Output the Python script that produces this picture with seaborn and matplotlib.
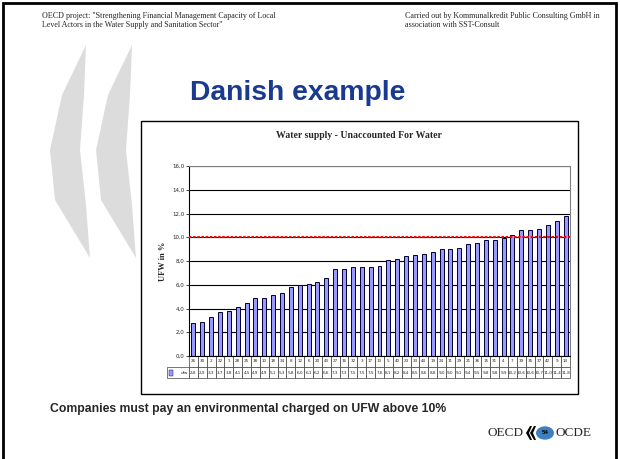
import matplotlib
matplotlib.use('Agg')
import matplotlib.pyplot as plt
from matplotlib.patches import Rectangle, Polygon, Circle
import pandas as pd
import seaborn as sns

# company codes, sorted by UFW
codes = [26, 30, 2, 22, 1, 28, 25, 38, 10, 18, 34, 8, 12, 6, 20, 43, 27, 16, 32, 3, 17, 13,
         5, 40, 23, 33, 44, 19, 24, 11, 29, 21, 36, 15, 31, 4, 7, 39, 35, 37, 42, 9, 14]
ufw = [2.8, 2.9, 3.3, 3.7, 3.8, 4.1, 4.5, 4.9, 4.9, 5.1, 5.3, 5.8, 6.0, 6.1, 6.2, 6.6, 7.3, 7.3,
       7.5, 7.5, 7.5, 7.6, 8.1, 8.2, 8.4, 8.5, 8.6, 8.8, 9.0, 9.0, 9.1, 9.4, 9.5, 9.8, 9.8, 9.9,
       10.2, 10.6, 10.6, 10.7, 11.0, 11.4, 11.8]
limit = 10.0
yticks = [0, 2, 4, 6, 8, 10, 12, 14, 16]

W, H = 620, 459


def px(x, y):
    return (x / W, 1 - y / H)


sns.set_style('white')
fig = plt.figure(figsize=(6.2, 4.59), dpi=100)

# slide frame
fig.add_artist(Rectangle(px(3, 480), 613 / W, 477 / H, transform=fig.transFigure,
                         fill=False, edgecolor='black', lw=2))

# big grey chevrons of the oecd logo
for dx in [0, 46]:
    pts = [px(86 + dx, 45), px(62 + dx, 95), px(50 + dx, 150), px(55 + dx, 200), px(90 + dx, 258),
           px(86 + dx, 205), px(80 + dx, 150), px(84 + dx, 95)]
    fig.add_artist(Polygon(pts, closed=True, transform=fig.transFigure,
                           facecolor='#dcdcdc', edgecolor='none'))

# header
fig.text(42 / W, 1 - 12 / H, 'OECD project: "Strengthening Financial Management Capacity of Local\n'
         'Level Actors in the Water Supply and Sanitation Sector"',
         family='Liberation Serif', fontsize=5.8, va='top', linespacing=1.1)
fig.text(405 / W, 1 - 12 / H, 'Carried out by Kommunalkredit Public Consulting GmbH in\n'
         'association with SST-Consult',
         family='Liberation Serif', fontsize=5.8, va='top', linespacing=1.1)

fig.text(190 / W, 1 - 93 / H, 'Danish example', family='Liberation Sans', fontweight='bold',
         fontsize=20.3, color='#1a3a8f', va='center')

# chart box
fig.add_artist(Rectangle(px(141, 394), 437 / W, 273 / H, transform=fig.transFigure,
                         fill=False, edgecolor='black', lw=1))
fig.text(359 / W, 1 - 136 / H, 'Water supply - Unaccounted For Water', family='Liberation Serif',
         fontweight='bold', fontsize=7, ha='center', va='center')

ax = fig.add_axes([189 / W, 1 - 356 / H, 381 / W, 190 / H])
df = pd.DataFrame({'code': [str(c) for c in codes], 'ufw': ufw})
sns.barplot(data=df, x='code', y='ufw', order=df['code'], color='#9999ff', saturation=1,
            width=0.45, edgecolor='#000030', linewidth=0.7, ax=ax)
ax.axhline(limit, color='red', ls=(0, (1.2, 0.8)), lw=1.5, zorder=5)
ax.set_ylim(0, 16)
ax.set_yticks(yticks)
ax.set_yticklabels([f'{v:.1f}'.replace('.', ',') for v in yticks])
ax.tick_params(axis='y', labelsize=4, length=2, width=0.6, pad=1, left=True)
ax.tick_params(axis='x', bottom=False, labelbottom=False)
ax.yaxis.grid(True, color='black', lw=0.8)
ax.set_axisbelow(True)
ax.set_xlabel('')
ax.set_ylabel('UFW in %', family='Liberation Serif', fontweight='bold', fontsize=6, labelpad=4)
for s in ['left', 'bottom']:
    ax.spines[s].set_color('black')
    ax.spines[s].set_linewidth(0.8)
for s in ['top', 'right']:
    ax.spines[s].set_color('#808080')
    ax.spines[s].set_linewidth(0.8)

# data table under the axis
n = len(codes)
lab_w = 22 / 381
tab = ax.table(cellText=[[''] + [str(c) for c in codes],
                         ['ufw'] + [f'{v:.1f}'.replace('.', ',') for v in ufw]],
               colWidths=[lab_w] + [1 / n] * n, cellLoc='center',
               bbox=[-lab_w, -22 / 190, 1 + lab_w, 22 / 190])
tab.auto_set_font_size(False)
tab.set_fontsize(3)
for (r, c), cell in tab.get_celld().items():
    cell.set_linewidth(0.5)
    cell.set_edgecolor('#404040')
tab[0, 0].set_edgecolor('white')
tab[0, 0].visible_edges = ''
tab[1, 0].get_text().set_ha('right')
tab[1, 0].PAD = 0.05
ax.add_patch(Rectangle((-lab_w + 0.004, -20 / 190), 0.012, 6 / 190, transform=ax.transAxes,
                       facecolor='#9999ff', edgecolor='#000040', lw=0.3, clip_on=False))

# footer
fig.text(50 / W, 1 - 409 / H, 'Companies must pay an environmental charged on UFW above 10%',
         family='Liberation Sans', fontweight='bold', fontsize=8.8, va='center')
fig.text(487 / W, 1 - 433 / H, 'OECD', family='Liberation Serif', fontsize=9.5, va='center')
fig.text(556 / W, 1 - 433 / H, 'OCDE', family='Liberation Serif', fontsize=9.5, va='center')
for dx in [0, 4]:
    pts = [px(530 + dx, 426), px(526 + dx, 433), px(530 + dx, 440),
           px(532 + dx, 440), px(529 + dx, 433), px(532 + dx, 426)]
    fig.add_artist(Polygon(pts, closed=True, transform=fig.transFigure,
                           facecolor='black', edgecolor='none'))
fig.add_artist(Circle(px(545, 433), 9 / W, transform=fig.transFigure, facecolor='#3d7fc1',
                      edgecolor='none'))
fig.text(545 / W, 1 - 433 / H, '54', family='Liberation Sans', fontweight='bold', fontsize=4.5,
         color='black', ha='center', va='center')

fig.savefig('out.png', dpi=100)
